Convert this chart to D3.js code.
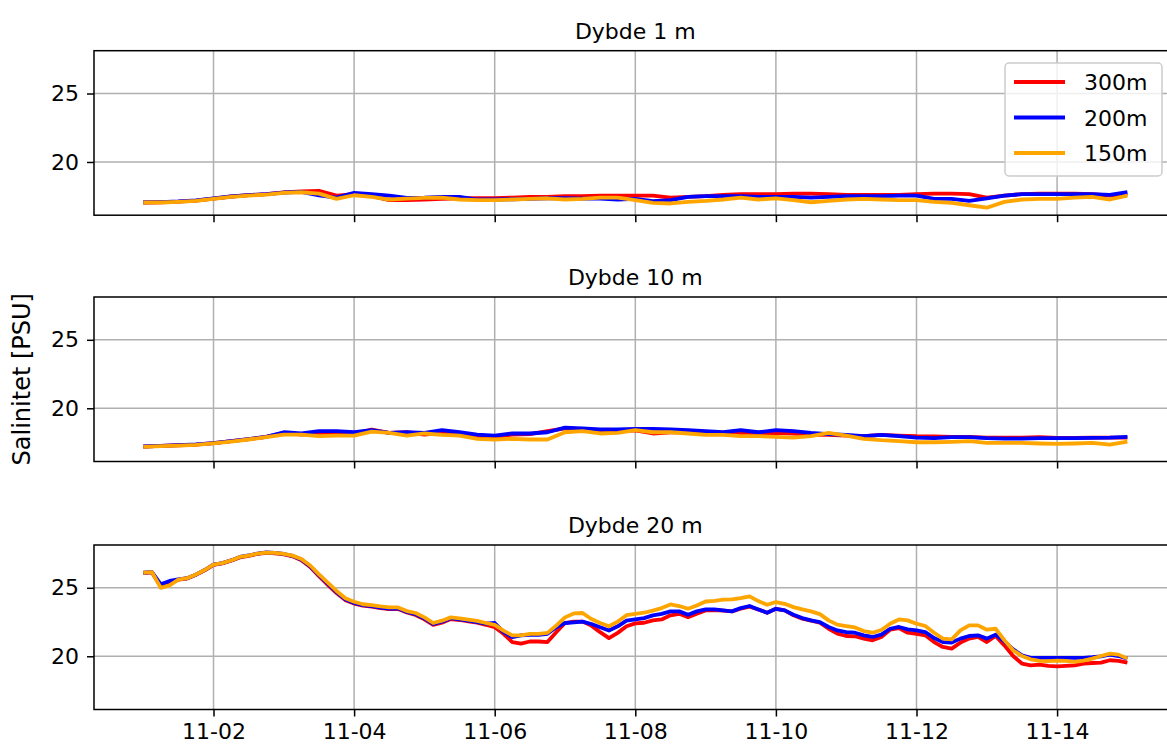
<!DOCTYPE html>
<html>
<head>
<meta charset="utf-8">
<script src="https://cdn.jsdelivr.net/npm/d3@7"></script>
<style>
  html, body { margin: 0; padding: 0; background: #fff; }
  svg { display: block; }
  text { font-family: "DejaVu Sans", sans-serif; fill: #000; }
</style>
</head>
<body>
<svg id="chart" width="1167" height="749"></svg>
<script>
// Salinity at three depths, three stations, 1–15 November
const stations = ["300m", "200m", "150m"];
const stationColors = ["#ff0000", "#0000ff", "#ffa500"];
const depthTitles = ["Dybde 1 m", "Dybde 10 m", "Dybde 20 m"];
const yTicks = [20, 25];
const xTickLabels = ["11-02", "11-04", "11-06", "11-08", "11-10", "11-12", "11-14"];

// 6-hourly series (1 m and 10 m)
const sal1m300 = [17.04,17.06,17.1,17.18,17.33,17.48,17.58,17.66,17.78,17.85,17.89,17.55,17.65,17.5,17.21,17.21,17.26,17.31,17.35,17.35,17.35,17.4,17.45,17.45,17.5,17.5,17.55,17.55,17.55,17.55,17.4,17.45,17.5,17.6,17.65,17.65,17.65,17.69,17.69,17.65,17.6,17.6,17.6,17.6,17.65,17.69,17.69,17.65,17.4,17.55,17.65,17.69,17.69,17.69,17.65,17.55,17.65];
const sal1m200 = [17.06,17.07,17.12,17.2,17.34,17.48,17.58,17.66,17.77,17.82,17.57,17.4,17.74,17.65,17.55,17.38,17.4,17.45,17.45,17.26,17.26,17.28,17.31,17.35,17.35,17.33,17.33,17.26,17.31,17.14,17.21,17.45,17.5,17.5,17.5,17.45,17.45,17.45,17.4,17.45,17.5,17.5,17.5,17.55,17.55,17.31,17.31,17.16,17.35,17.55,17.65,17.65,17.65,17.65,17.65,17.6,17.79];
const sal1m150 = [17.04,17.04,17.09,17.16,17.31,17.45,17.55,17.62,17.74,17.79,17.69,17.31,17.57,17.45,17.26,17.33,17.38,17.4,17.26,17.21,17.21,17.26,17.31,17.35,17.26,17.31,17.4,17.4,17.22,17.01,16.97,17.09,17.16,17.26,17.4,17.26,17.35,17.21,17.06,17.16,17.26,17.31,17.26,17.21,17.21,17.09,17.01,16.84,16.66,17.09,17.26,17.31,17.31,17.4,17.45,17.26,17.55];

const sal10m300 = [17.2,17.25,17.3,17.35,17.45,17.6,17.75,17.92,18.2,18.08,18.16,18.2,18.16,18.45,18.2,18.25,18.08,18.2,18.16,17.96,17.91,18.08,18.11,18.33,18.54,18.45,18.35,18.35,18.38,18.16,18.25,18.25,18.2,18.16,18.2,18.16,18.2,18.16,18.06,18.06,18.01,17.96,18.06,18.01,17.96,17.94,17.91,17.91,17.86,17.86,17.86,17.89,17.84,17.84,17.86,17.86,17.86];
const sal10m200 = [17.21,17.26,17.31,17.36,17.46,17.6,17.75,17.92,18.25,18.16,18.33,18.33,18.25,18.4,18.2,18.25,18.2,18.4,18.25,18.08,18.01,18.16,18.16,18.25,18.59,18.54,18.45,18.45,18.5,18.5,18.45,18.4,18.33,18.25,18.4,18.25,18.4,18.33,18.2,18.11,18.06,17.96,18.06,17.96,17.86,17.82,17.89,17.89,17.82,17.79,17.79,17.82,17.82,17.82,17.84,17.86,17.91];
const sal10m150 = [17.18,17.23,17.28,17.33,17.43,17.57,17.72,17.89,18.08,18.08,17.96,18.01,18.01,18.3,18.2,18.01,18.16,18.06,18.01,17.77,17.72,17.77,17.72,17.72,18.25,18.33,18.16,18.2,18.4,18.25,18.25,18.16,18.06,18.06,17.96,17.96,17.91,17.86,17.96,18.2,18.01,17.77,17.67,17.6,17.52,17.52,17.55,17.6,17.48,17.48,17.48,17.43,17.4,17.43,17.48,17.35,17.57];

// 3-hourly series (20 m)
const sal20m300 = [26.08,26.12,25.1,25.3,25.6,25.68,25.95,26.28,26.68,26.78,26.98,27.22,27.33,27.48,27.55,27.52,27.44,27.3,27.02,26.52,25.85,25.22,24.62,24.1,23.85,23.7,23.62,23.52,23.44,23.45,23.2,23.02,22.7,22.3,22.45,22.72,22.65,22.55,22.45,22.3,22.12,21.64,21.04,20.92,21.08,21.08,21.04,21.76,22.43,22.53,22.53,22.24,21.76,21.33,21.71,22.19,22.4,22.45,22.62,22.69,22.99,23.1,22.86,23.1,23.35,23.37,23.33,23.28,23.47,23.62,23.42,23.18,23.47,23.35,22.99,22.74,22.6,22.45,22.01,21.65,21.48,21.46,21.29,21.17,21.41,21.94,22.06,21.72,21.63,21.53,21.04,20.68,20.56,21.0,21.29,21.41,21.04,21.48,20.8,20.02,19.47,19.34,19.39,19.3,19.27,19.3,19.34,19.47,19.51,19.54,19.71,19.66,19.54];
const sal20m200 = [26.1,26.14,25.25,25.5,25.62,25.7,25.96,26.3,26.7,26.8,27.0,27.25,27.36,27.5,27.58,27.55,27.47,27.33,27.06,26.57,25.92,25.3,24.7,24.17,23.9,23.74,23.66,23.56,23.48,23.5,23.24,23.08,22.76,22.36,22.52,22.78,22.7,22.6,22.5,22.38,22.43,21.76,21.4,21.52,21.57,21.57,21.64,22.12,22.43,22.48,22.53,22.36,22.12,21.88,22.19,22.6,22.7,22.79,22.99,23.1,23.28,23.28,23.03,23.28,23.42,23.42,23.35,23.28,23.52,23.67,23.42,23.18,23.47,23.35,23.03,22.79,22.62,22.5,22.14,21.89,21.77,21.72,21.53,21.41,21.58,22.01,22.14,21.97,21.89,21.77,21.33,21.04,21.0,21.29,21.48,21.53,21.29,21.58,21.09,20.51,20.07,19.88,19.88,19.88,19.88,19.88,19.88,19.88,19.93,20.0,20.12,20.02,19.83];
const sal20m150 = [26.1,26.15,25.0,25.18,25.6,25.7,25.97,26.3,26.7,26.8,27.0,27.25,27.35,27.5,27.57,27.55,27.47,27.35,27.1,26.63,25.98,25.37,24.77,24.24,23.98,23.8,23.73,23.64,23.57,23.57,23.3,23.16,22.84,22.43,22.6,22.84,22.77,22.67,22.58,22.43,22.29,21.88,21.52,21.52,21.64,21.64,21.71,22.24,22.84,23.13,23.16,22.72,22.43,22.19,22.53,23.0,23.1,23.18,23.33,23.52,23.79,23.67,23.47,23.71,24.0,24.05,24.13,24.15,24.25,24.37,24.03,23.76,23.96,23.83,23.59,23.42,23.28,23.08,22.62,22.31,22.21,22.11,21.84,21.72,21.92,22.38,22.69,22.62,22.38,22.21,21.72,21.29,21.24,21.89,22.26,22.26,21.94,22.01,21.17,20.44,20.02,19.78,19.66,19.64,19.68,19.66,19.59,19.68,19.83,20.02,20.19,20.12,19.83];

const firstStamp = new Date(2021, 10, 1, 0, 0);
const lastStamp = new Date(2021, 10, 15, 0, 0);
const times6h = d3.timeHour.every(6).range(firstStamp, d3.timeHour.offset(lastStamp, 1));
const times3h = d3.timeHour.every(3).range(firstStamp, d3.timeHour.offset(lastStamp, 1));

const panels = [
  { title: depthTitles[0], times: times6h, series: [sal1m300, sal1m200, sal1m150] },
  { title: depthTitles[1], times: times6h, series: [sal10m300, sal10m200, sal10m150] },
  { title: depthTitles[2], times: times3h, series: [sal20m300, sal20m200, sal20m150] }
];

const svg = d3.select("#chart");
const axLeft = 94, axRight = 1176.6;
const panelTops = [50.7, 297, 545];
const panelH = 164.5;
const tickFont = 22;

// shared x scale with 5% padding around the data span
const span = lastStamp - firstStamp;
const x = d3.scaleTime()
  .domain([new Date(+firstStamp - span * 0.05), new Date(+lastStamp + span * 0.05)])
  .range([axLeft, axRight]);

const allVals = panels.flatMap(p => p.series.flat());
const [vmin, vmax] = d3.extent(allVals);
const pad = (vmax - vmin) * 0.05;
const yDomain = [vmin - pad, vmax + pad];

const xTickDates = xTickLabels.map(s => new Date(2021, +s.slice(0, 2) - 1, +s.slice(3)));
const fmt = d3.timeFormat("%m-%d");

svg.append("defs").append("clipPath").attr("id", "plotclip")
  .append("rect").attr("x", 0).attr("y", 0).attr("width", axRight - axLeft).attr("height", panelH);

panels.forEach((p, i) => {
  const top = panelTops[i];
  const y = d3.scaleLinear().domain(yDomain).range([top + panelH, top]);
  const g = svg.append("g");

  // grid
  g.append("g").selectAll("line").data(xTickDates).join("line")
    .attr("x1", d => x(d)).attr("x2", d => x(d))
    .attr("y1", top).attr("y2", top + panelH)
    .attr("stroke", "#b0b0b0").attr("stroke-width", 1.5);
  g.append("g").selectAll("line").data(yTicks).join("line")
    .attr("x1", axLeft).attr("x2", axRight)
    .attr("y1", d => y(d)).attr("y2", d => y(d))
    .attr("stroke", "#b0b0b0").attr("stroke-width", 1.5);

  // data lines
  const plot = g.append("g")
    .attr("transform", `translate(${axLeft},${top})`);
  const inner = plot.append("g").attr("clip-path", "url(#plotclip)")
    .append("g").attr("transform", `translate(${-axLeft},${-top})`);
  const line = d3.line()
    .x((d, k) => x(p.times[k]))
    .y(d => y(d));
  p.series.forEach((vals, s) => {
    inner.append("path")
      .attr("d", line(vals))
      .attr("fill", "none")
      .attr("stroke", stationColors[s])
      .attr("stroke-width", 3.8)
      .attr("stroke-linejoin", "round")
      .attr("stroke-linecap", "butt");
  });

  // frame
  g.append("rect")
    .attr("x", axLeft).attr("y", top)
    .attr("width", axRight - axLeft).attr("height", panelH)
    .attr("fill", "none").attr("stroke", "#000").attr("stroke-width", 1.5);

  // axes
  const yAxis = d3.axisLeft(y).tickValues(yTicks).tickSize(7).tickPadding(8)
    .tickFormat(d3.format("d"));
  const ya = g.append("g").attr("transform", `translate(${axLeft},0)`).call(yAxis);
  ya.select(".domain").remove();
  ya.selectAll(".tick line").attr("stroke-width", 1.5);
  ya.selectAll(".tick text").style("font-size", tickFont + "px").style("font-family", "DejaVu Sans");

  const xAxis = d3.axisBottom(x).tickValues(xTickDates).tickSize(7).tickPadding(7)
    .tickFormat(i === 2 ? fmt : () => "");
  const xa = g.append("g").attr("transform", `translate(0,${top + panelH})`).call(xAxis);
  xa.select(".domain").remove();
  xa.selectAll(".tick line").attr("stroke-width", 1.5);
  xa.selectAll(".tick text").style("font-size", tickFont + "px").style("font-family", "DejaVu Sans");

  // title
  g.append("text")
    .attr("x", (axLeft + axRight) / 2)
    .attr("y", top - 12)
    .attr("text-anchor", "middle")
    .style("font-size", "22px")
    .text(p.title);
});

// y label
svg.append("text")
  .attr("transform", `translate(30,${panelTops[1] + panelH / 2}) rotate(-90)`)
  .attr("text-anchor", "middle")
  .style("font-size", "24px")
  .text("Salinitet [PSU]");

// legend in the top panel
const lg = svg.append("g").attr("transform", "translate(1005,63)");
lg.append("rect")
  .attr("x", 0).attr("y", 0).attr("width", 157).attr("height", 113)
  .attr("rx", 4).attr("ry", 4)
  .attr("fill", "rgba(255,255,255,0.8)").attr("stroke", "#cccccc").attr("stroke-width", 1.5);
stations.forEach((name, s) => {
  const cy = 19 + s * 35.5;
  lg.append("line").attr("x1", 9).attr("x2", 60).attr("y1", cy).attr("y2", cy)
    .attr("stroke", stationColors[s]).attr("stroke-width", 3.8);
  lg.append("text").attr("x", 79).attr("y", cy + 8)
    .style("font-size", "22px").text(name);
});
</script>
</body>
</html>
